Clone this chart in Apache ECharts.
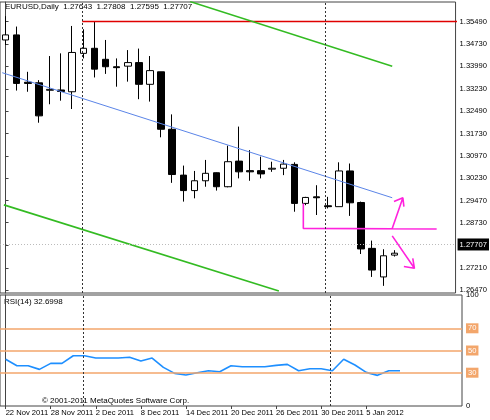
<!DOCTYPE html>
<html><head><meta charset="utf-8">
<script src="https://cdn.jsdelivr.net/npm/echarts@6/dist/echarts.min.js"></script>
<style>html,body{margin:0;padding:0;background:#fff}#c{width:490px;height:420px}</style>
</head><body><div id="c"></div>
<script>
const dates = ['22 Nov 2011','23 Nov','24 Nov','25 Nov','28 Nov 2011','29 Nov','30 Nov','1 Dec','2 Dec 2011','5 Dec','6 Dec','7 Dec','8 Dec 2011','9 Dec','12 Dec','13 Dec','14 Dec 2011','15 Dec','16 Dec','19 Dec','20 Dec 2011','21 Dec','22 Dec','23 Dec','26 Dec 2011','27 Dec','28 Dec','29 Dec','30 Dec 2011','1 Jan','2 Jan','3 Jan','5 Jan 2012','4 Jan','6 Jan','9 Jan'];
const labelIdx = [0,4,8,12,16,20,24,28,32];
// [open, close, low, high]
const ohlc = [
 [1.3487,1.3504,1.3470,1.3567],[1.3504,1.3341,1.3317,1.3532],[1.3345,1.3341,1.3313,1.3380],[1.3343,1.3232,1.3209,1.3352],
 [1.3318,1.3321,1.3271,1.3433],[1.3319,1.3314,1.3283,1.3442],[1.3313,1.3445,1.3255,1.3534],[1.3442,1.3459,1.3425,1.3523],
 [1.3459,1.3389,1.3361,1.3548],[1.3422,1.3397,1.3373,1.3487],[1.3397,1.3394,1.3330,1.3425],[1.3399,1.3411,1.3347,1.3453],
 [1.3411,1.3338,1.3288,1.3458],[1.3338,1.3384,1.3280,1.3433],[1.3380,1.3187,1.3160,1.3380],[1.3187,1.3035,1.3007,1.3237],
 [1.3033,1.2981,1.2944,1.3065],[1.2981,1.3014,1.2955,1.3047],[1.3014,1.3039,1.2994,1.3084],[1.3041,1.2994,1.2981,1.3042],
 [1.2994,1.3078,1.2992,1.3132],[1.3080,1.3044,1.3022,1.3196],[1.3048,1.3044,1.3014,1.3117],[1.3048,1.3037,1.3022,1.3095],
 [1.3053,1.3056,1.3044,1.3078],[1.3056,1.3070,1.3033,1.3084],[1.3069,1.2938,1.2910,1.3076],[1.2938,1.2958,1.2932,1.2960],
 [1.2960,1.2957,1.2899,1.2999],[1.2930,1.2927,1.2921,1.2960],[1.2927,1.3047,1.2927,1.3076],[1.3047,1.2940,1.2896,1.3072],
 [1.2941,1.2785,1.2768,1.2944],[1.2787,1.2714,1.2691,1.2813],[1.2691,1.2762,1.2661,1.2784],[1.27643,1.27707,1.27595,1.27808]
];
const rsi = [42.1,36.3,36.3,33.0,38.4,38.4,45.3,45.3,43.2,43.2,43.2,43.9,40.5,43.2,34.8,29.4,27.9,30.0,31.8,30.9,36.3,35.4,35.4,35.4,36.6,37.5,31.8,33.6,33.6,31.8,42.1,36.9,30.3,27.6,31.8,31.8];
const priceTicks = [1.35490,1.34730,1.33990,1.33230,1.32490,1.31730,1.30970,1.30230,1.29470,1.28730,1.27970,1.27210,1.26470];
const rsiTicks = [0,30,50,70,100];
const lastPrice = 1.27707;
// drawn objects: [bar index position, price]
const redLine = [[6.9,1.3549],[41,1.3549]];
const blueLine = [[-0.3,1.3377],[34.8,1.2957]];
const greenTop = [[16.6,1.3616],[34.8,1.3399]];
const greenBottom = [[-0.15,1.2933],[24.6,1.2644]];
const pinkLines = [[26.8,1.2938],[26.8,1.2854],[38.8,1.2852],null,
  [34.8,1.2854],[35.76,1.2957],null,[34.96,1.2944],[35.76,1.2957],[35.85,1.2927],null,
  [34.8,1.2829],[36.8,1.2720],null,[35.85,1.2726],[36.8,1.2720],[36.65,1.2753]];
const periodSeps = [6.9,28.8];

const N = 41;
const cats = dates.concat(Array.from({length:N-dates.length},(_, i)=>' '+i));
const font = 'Liberation Sans';
const chart = echarts.init(document.getElementById('c'));
const G = [{left:-2.3,top:2,width:464.3,height:291},{left:-2.3,top:295,width:464.3,height:111}];
chart.setOption({
  animation:false,
  textStyle:{fontFamily:font},
  grid:G.map(g=>Object.assign({show:true,borderColor:'#444',borderWidth:1,backgroundColor:'#fff'},g)),
  xAxis:[
    {type:'category',gridIndex:0,data:cats,show:false},
    {type:'value',gridIndex:0,min:-0.5,max:N-0.5,show:false},
    {type:'category',gridIndex:1,data:cats,axisLine:{show:false},
     axisTick:{show:true,length:3,alignWithLabel:true,interval:(i)=>labelIdx.includes(i),lineStyle:{color:'#444'}},
     axisLabel:{fontSize:7.6,color:'#000',align:'left',margin:3,interval:0,showMinLabel:true,hideOverlap:false,
       formatter:(v,i)=>labelIdx.includes(i)?v:''}},
    {type:'value',gridIndex:1,min:-0.5,max:N-0.5,show:false}
  ],
  yAxis:[
    {type:'value',gridIndex:0,position:'right',min:1.26370,max:1.36145,splitLine:{show:false},
     axisLine:{show:true,lineStyle:{color:'#444'}},axisTick:{show:true,length:3,customValues:priceTicks,lineStyle:{color:'#444'}},
     axisLabel:{fontSize:7.6,color:'#000',margin:4,customValues:priceTicks,formatter:v=>v.toFixed(5)}},
    {type:'value',gridIndex:1,position:'right',min:0,max:100,splitLine:{show:false},
     axisLine:{show:true,lineStyle:{color:'#444'}},axisTick:{show:false},
     axisLabel:{fontSize:7.6,margin:4,customValues:rsiTicks,showMaxLabel:true,
       formatter:v=>(v===30||v===50||v===70)?'{o|'+v+'}':String(v),
       rich:{o:{backgroundColor:'#f3a66b',color:'#fff',padding:[1,2],fontSize:7.6}},color:'#000'}}
  ],
  series:[
    {type:'line',xAxisIndex:1,yAxisIndex:0,data:redLine,symbol:'none',lineStyle:{color:'#e00000',width:1.3},silent:true,
     markLine:{symbol:'none',silent:true,label:{show:false},lineStyle:{color:'#333',type:[2,2],width:1},data:periodSeps.map(x=>({xAxis:x}))}},
    {type:'line',xAxisIndex:1,yAxisIndex:0,data:blueLine,symbol:'none',lineStyle:{color:'#5b85e8',width:1},
     markLine:{symbol:'none',silent:true,lineStyle:{color:'#bbb',type:[1,2],width:1},
       label:{show:true,position:'end',formatter:lastPrice.toFixed(5),backgroundColor:'#000',color:'#fff',fontSize:7.6,padding:[2,2],distance:2},
       data:[{yAxis:lastPrice}]}},
    {type:'line',xAxisIndex:1,yAxisIndex:0,data:greenTop,symbol:'none',lineStyle:{color:'#33bb22',width:1.6}},
    {type:'line',xAxisIndex:1,yAxisIndex:0,data:greenBottom,symbol:'none',lineStyle:{color:'#33bb22',width:1.6}},
    {type:'line',xAxisIndex:1,yAxisIndex:0,data:pinkLines,symbol:'none',connectNulls:false,lineStyle:{color:'#ff22dd',width:1.6}},
    {type:'candlestick',xAxisIndex:0,yAxisIndex:0,data:ohlc,barWidth:7,
     itemStyle:{color:'#fff',color0:'#000',borderColor:'#000',borderColor0:'#000',borderWidth:1}},
    {type:'line',xAxisIndex:3,yAxisIndex:1,data:rsi.map((v,i)=>[i,v]),symbol:'none',lineStyle:{color:'#1e8fff',width:1.6},
     markLine:{symbol:'none',silent:true,label:{show:false},lineStyle:{color:'#f3a66b',type:'solid',width:1.5},data:[{yAxis:70},{yAxis:50},{yAxis:30}]}},
    {type:'line',xAxisIndex:3,yAxisIndex:1,data:[],
     markLine:{symbol:'none',silent:true,label:{show:false},lineStyle:{color:'#333',type:[2,2],width:1},data:periodSeps.map(x=>({xAxis:x}))}}
  ],
  graphic:[
    {type:'text',left:5,top:3,style:{text:'EURUSD,Daily  1.27643  1.27808  1.27595  1.27707',font:'8px '+font,fill:'#000'}},
    {type:'text',left:4,top:298,style:{text:'RSI(14) 32.6998',font:'8px '+font,fill:'#000'}},
    {type:'text',left:42,top:397,style:{text:'© 2001-2011 MetaQuotes Software Corp.',font:'8px '+font,fill:'#000'}}
  ]
});
</script></body></html>
